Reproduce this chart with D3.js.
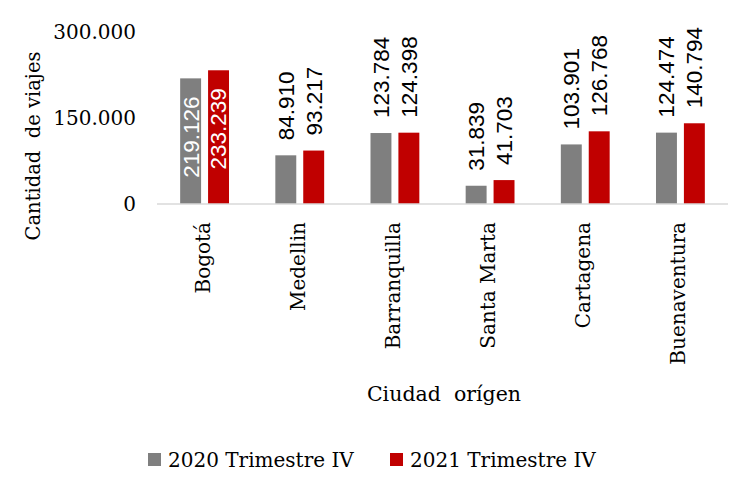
<!DOCTYPE html>
<html>
<head>
<meta charset="utf-8">
<script src="https://cdn.jsdelivr.net/npm/d3@7"></script>
<style>
    body { margin: 0; background: #fff; }
    svg text { white-space: pre; }
</style>
</head>
<body>
<div id="chart"></div>
<script>
// data
var categories = ["Bogotá", "Medellin", "Barranquilla", "Santa Marta", "Cartagena", "Buenaventura"];
var seriesNames = ["2020 Trimestre IV", "2021 Trimestre IV"];
var values2020 = [219126, 84910, 123784, 31839, 103901, 124474];
var values2021 = [233239, 93217, 124398, 41703, 126768, 140794];
var yTicks = [0, 150000, 300000];
var colors = ["#7f7f7f", "#c00000"];

var width = 734, height = 487;
var margin = {top: 32, right: 6, bottom: 283, left: 157};
var serif = "'DejaVu Serif', serif";
var sans = "'Liberation Sans', Arial, sans-serif";

var svg = d3.select("#chart")
    .append("svg")
    .attr("width", width)
    .attr("height", height);

var data = categories.map(function(c, i) {
    return {name: c, vals: [values2020[i], values2021[i]]};
});

var x0 = d3.scaleBand()
    .domain(categories)
    .range([margin.left, width - margin.right]);

var x1 = d3.scaleBand()
    .domain([0, 1])
    .range([0, x0.bandwidth()])
    .paddingInner(0.25)
    .paddingOuter(0.83);

var y = d3.scaleLinear()
    .domain([0, 300000])
    .range([height - margin.bottom, margin.top]);

var fmt = function(v) {
    return d3.format(",")(v).replace(/,/g, ".");
};

// y tick labels (no axis line in the reference)
svg.append("g")
    .selectAll("text")
    .data(yTicks).enter()
    .append("text")
    .attr("x", 136)
    .attr("y", function(d) { return y(d); })
    .attr("dy", ".35em")
    .attr("text-anchor", "end")
    .attr("font-family", serif)
    .attr("font-size", 20)
    .attr("fill", "#000")
    .text(function(d) { return d === 0 ? "0" : fmt(d); });

// bars
var groups = svg.append("g")
    .selectAll("g")
    .data(data).enter()
    .append("g")
    .attr("transform", function(d) { return "translate(" + x0(d.name) + ",0)"; });

groups.selectAll("rect")
    .data(function(d) { return d.vals; }).enter()
    .append("rect")
    .attr("x", function(d, i) { return x1(i); })
    .attr("width", x1.bandwidth())
    .attr("y", function(d) { return y(d); })
    .attr("height", function(d) { return y(0) - y(d); })
    .attr("fill", function(d, i) { return colors[i]; });

// value labels, rotated; the tall Bogotá bars get them inside in white
groups.selectAll("text")
    .data(function(d, gi) { return d.vals.map(function(v) { return {v: v, inside: gi === 0}; }); })
    .enter()
    .append("text")
    .attr("transform", function(d, i) {
        var cx = x1(i) + x1.bandwidth() / 2;
        var ty = d.inside ? y(d.v) + 18 : y(d.v) - 15;
        return "translate(" + cx + "," + ty + ") rotate(-90)";
    })
    .attr("dy", ".35em")
    .attr("text-anchor", function(d) { return d.inside ? "end" : "start"; })
    .attr("font-family", sans)
    .attr("font-size", 22.5)
    .attr("fill", function(d) { return d.inside ? "#fff" : "#000"; })
    .text(function(d) { return fmt(d.v); });

// x axis line
svg.append("line")
    .attr("x1", margin.left)
    .attr("x2", width - margin.right)
    .attr("y1", y(0))
    .attr("y2", y(0))
    .attr("stroke", "#d9d9d9")
    .attr("stroke-width", 1.5);

// category labels
svg.append("g")
    .selectAll("text")
    .data(categories).enter()
    .append("text")
    .attr("transform", function(d) {
        return "translate(" + (x0(d) + x0.bandwidth() / 2 - 2) + "," + 222 + ") rotate(-90)";
    })
    .attr("dy", ".35em")
    .attr("text-anchor", "end")
    .attr("font-family", serif)
    .attr("font-size", 20)
    .attr("fill", "#000")
    .text(function(d) { return d; });

// axis titles
svg.append("text")
    .attr("transform", "translate(33,146) rotate(-90)")
    .attr("dy", ".35em")
    .attr("text-anchor", "middle")
    .attr("font-family", serif)
    .attr("font-size", 19.5)
    .text("Cantidad  de viajes");

svg.append("text")
    .attr("x", 444)
    .attr("y", 394)
    .attr("dy", ".35em")
    .attr("text-anchor", "middle")
    .attr("font-family", serif)
    .attr("font-size", 20.5)
    .text("Ciudad  orígen");

// legend
var legendX = [148, 390];
var legend = svg.append("g")
    .selectAll("g")
    .data(seriesNames).enter()
    .append("g")
    .attr("transform", function(d, i) { return "translate(" + legendX[i] + ",460)"; });

legend.append("rect")
    .attr("x", 0)
    .attr("y", -7)
    .attr("width", 13)
    .attr("height", 13)
    .attr("fill", function(d, i) { return colors[i]; });

legend.append("text")
    .attr("x", 20)
    .attr("y", 0)
    .attr("dy", ".35em")
    .attr("font-family", serif)
    .attr("font-size", 20)
    .text(function(d) { return d; });
</script>
</body>
</html>
